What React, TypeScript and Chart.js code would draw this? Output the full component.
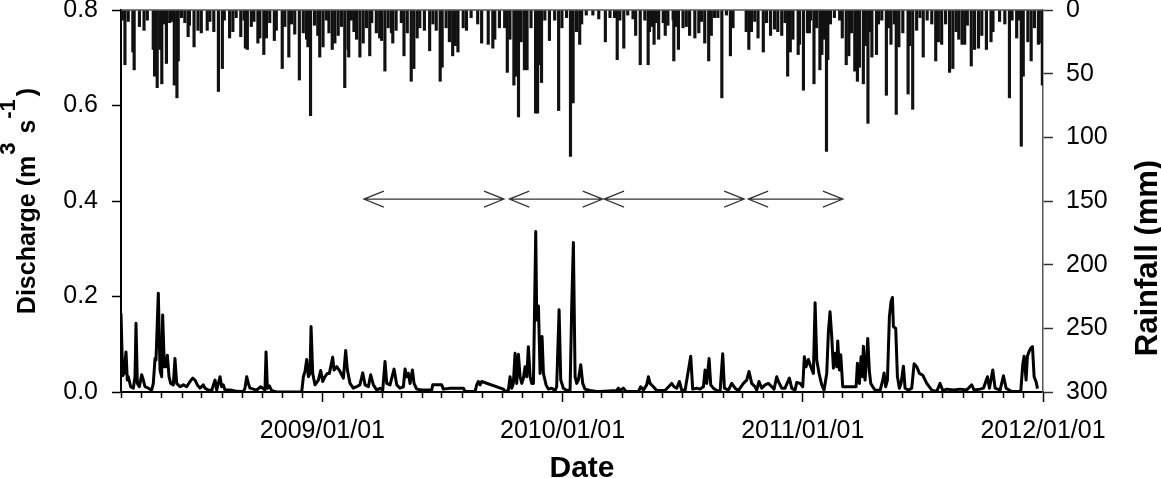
import React, { useEffect, useRef } from "react";
import { Chart, registerables } from "chart.js";

Chart.register(...registerables);

// Day offsets are counted from 2008/03/01 (day 0) to 2012/01/01 (day 1401).
const START_YEAR = 2008;
const START_MONTH = 2; // March (0-based)
const END_DAY = 1401;

// Year labels on the date axis
const yearLabels = ["2009/01/01", "2010/01/01", "2011/01/01", "2012/01/01"];

// Discharge (m3 s-1): [day, value]
const discharge2008: [number, number][] = [
  [0, 0.165], [2.5, 0.034], [4.6, 0.039], [7.6, 0.084], [9.6, 0.025], [11.1, 0.032], [14.7, 0.011],
  [18.7, 0.008], [21.3, 0.032], [22.8, 0.144], [24.8, 0.018], [27.9, 0.011], [31.4, 0.036], [33.9, 0.025],
  [36.5, 0.011], [41.5, 0.008], [46.6, 0.004], [49.1, 0.018], [51.7, 0.07], [53.2, 0.067], [56.7, 0.207],
  [59.3, 0.046], [61.8, 0.032], [63.3, 0.161], [65.9, 0.053], [68.4, 0.053], [70.4, 0.077], [73, 0.032],
  [75.5, 0.018], [79.5, 0.015], [82, 0.07], [84.6, 0.018], [89.7, 0.011], [94.7, 0.015], [99.8, 0.011],
  [104.9, 0.022], [108.9, 0.029], [112.5, 0.025], [116, 0.015], [120, 0.008], [125, 0.015], [127.7, 0.008],
  [132.7, 0.004], [137.8, 0.003], [142.9, 0.025], [145.4, 0.004], [150.5, 0.032], [153, 0.011], [155.5, 0.015],
  [158, 0.004], [165.7, 0.004], [173.3, 0.002], [180.9, 0.001], [186, 0.001], [188.4, 0.008], [191, 0.032],
  [193.5, 0.018], [196, 0.008], [206, 0.004], [212.3, 0.011], [215.3, 0.008], [218.8, 0.004], [220.4, 0.084],
  [222.4, 0.008], [225.4, 0.013], [229, 0.003], [236.6, 0], [274.6, 0], [277.1, 0.032], [279.6, 0.043],
  [282.2, 0.068], [284.7, 0.032], [287.2, 0.039], [288.8, 0.137], [291.3, 0.039], [294.8, 0.015], [299.9, 0.025],
  [303.4, 0.045],
];
const discharge2009: [number, number][] = [
  [306.5, 0.022], [310, 0.032], [313.6, 0.039], [316.6, 0.039], [321.7, 0.073], [323.7, 0.046], [327.8, 0.053],
  [332.8, 0.043], [337.9, 0.029], [341.4, 0.087], [344, 0.046], [348, 0.018], [353, 0.008], [358, 0.011],
  [363, 0.015], [367.3, 0.04], [370.8, 0.015], [375.9, 0.011], [379.4, 0.036], [383.5, 0.015], [388.6, 0.004],
  [393.6, 0.008], [397.7, 0.004], [401.2, 0.064], [403.8, 0.018], [408.8, 0.015], [414.9, 0.048], [419, 0.015],
  [424, 0.008], [429.1, 0.011], [431.6, 0.048], [434.1, 0.032], [436.7, 0.039], [439.2, 0.018], [442.8, 0.046],
  [445.3, 0.018], [449.3, 0.006], [457, 0.004], [472.1, 0.004], [473.7, 0.015], [487.3, 0.015], [489.9, 0.006],
  [500, 0.008], [520.3, 0.008], [522.8, 0.001], [538, 0.001], [540.5, 0.015], [543, 0.022], [545.6, 0.015],
  [548.1, 0.022], [581, 0.006], [583.6, 0.001], [588.6, 0.004], [591.2, 0.032], [593.7, 0.008], [596.2, 0.018],
  [598.8, 0.081], [601.3, 0.018], [603.9, 0.079], [606.4, 0.032], [609, 0.018], [611.5, 0.029], [614, 0.053],
  [616.6, 0.032], [619, 0.095], [621.7, 0.032], [624.1, 0.018], [626.7, 0.018], [630.2, 0.336], [631.7, 0.151],
  [634.3, 0.18], [636.8, 0.039], [639.8, 0.116], [641.9, 0.039], [645.9, 0.015], [649.4, 0.006], [654.5, 0.008],
  [659.6, 0.003], [662, 0.011], [665.7, 0.172], [668.2, 0.025],
];
const discharge2010: [number, number][] = [
  [672.2, 0.008], [677.3, 0.003], [682.4, 0.004], [684.9, 0.18], [687.4, 0.313], [690, 0.032], [692.5, 0.018],
  [695, 0.025], [698.6, 0.057], [701.6, 0.018], [705, 0.006], [712.8, 0.003], [723, 0.001], [728, 0.001],
  [753.2, 0.003], [755.8, 0.008], [758.3, 0.003], [763.4, 0.008], [767.4, 0.001], [786.2, 0.001], [789.7, 0.011],
  [793.8, 0.004], [798.8, 0.015], [801.4, 0.032], [803.9, 0.018], [809, 0.011], [814, 0.003], [826.7, 0.003],
  [836.8, 0.018], [840.4, 0.011], [844.4, 0.008], [848.5, 0.022], [852, 0.004], [857.1, 0.003], [865.7, 0.075],
  [868.7, 0.006], [874.8, 0.008], [879.9, 0.006], [885, 0.011], [887.5, 0.046], [890, 0.018], [893.6, 0.07],
  [896.1, 0.015], [900.1, 0.008], [905.2, 0.003], [910.3, 0.001], [914.3, 0.08], [916.9, 0.008], [923, 0.004],
  [928, 0.018], [933.1, 0.008], [938.1, 0.003], [945.7, 0.018], [950.8, 0.025], [954.3, 0.043], [958.4, 0.018],
  [963.5, 0.011], [966, 0.004], [969.5, 0.022], [973.6, 0.008], [978.7, 0.015], [983.7, 0.018], [988.8, 0.011],
  [992.3, 0.006], [996.4, 0.032], [998.9, 0.022], [1004, 0.008], [1009, 0.008], [1015.6, 0.029], [1019.2, 0.008],
  [1024.2, 0.004], [1026.8, 0.02], [1031.9, 0.018],
];
const discharge2011: [number, number][] = [
  [1035.9, 0.011], [1038.4, 0.074], [1041, 0.053], [1044.5, 0.068], [1048.1, 0.053], [1052.1, 0.039],
  [1054.7, 0.187], [1057.2, 0.067], [1060.7, 0.039], [1064.8, 0.015], [1068.3, 0.004], [1072.4, 0.039],
  [1074.9, 0.126], [1077.4, 0.168], [1080, 0.116], [1082.5, 0.05], [1085, 0.081], [1087.6, 0.053], [1089.1, 0.107],
  [1091.6, 0.046], [1093.7, 0.078], [1096.7, 0.011], [1100.2, 0.011], [1105.3, 0.011], [1112.9, 0.011],
  [1117, 0.011], [1119, 0.06], [1122, 0.018], [1124.6, 0.074], [1126.6, 0.032], [1128.1, 0.096], [1130.6, 0.025],
  [1133.2, 0.074], [1134.7, 0.112], [1137.2, 0.043], [1139.3, 0.018], [1142.3, 0.011], [1145.8, 0.004],
  [1153.4, 0.003], [1157.5, 0.025], [1159.5, 0.04], [1162, 0.011], [1164.6, 0.025], [1167.6, 0.158],
  [1170.1, 0.189], [1172.2, 0.198], [1173.7, 0.137], [1177.2, 0.133], [1179.8, 0.032], [1182.8, 0.008],
  [1185.3, 0.018], [1188.9, 0.054], [1191.4, 0.008], [1196.5, 0.004], [1201.6, 0.008], [1205.1, 0.059],
  [1209.2, 0.053], [1213.2, 0.039], [1218.3, 0.035], [1224.4, 0.018], [1232, 0.004], [1239.5, 0.001],
  [1244.6, 0.018], [1248.7, 0.003], [1254.7, 0.006], [1264.9, 0.004], [1275, 0.006], [1285.1, 0.004],
  [1292.7, 0.015], [1296.3, 0.004], [1305.4, 0.006], [1310.5, 0.008], [1316.6, 0.032], [1319.6, 0.008],
  [1324.7, 0.046], [1328.2, 0.008], [1335.8, 0.004], [1340.9, 0.034], [1344.9, 0.008], [1353.5, 0.001],
  [1367.2, 0.001], [1370.2, 0.057], [1372.3, 0.075], [1375.3, 0.025], [1377.3, 0.075], [1379.9, 0.085],
  [1382.4, 0.092], [1385, 0.095], [1387.5, 0.032], [1390.6, 0.021], [1392.6, 0.007],
];

// Daily rainfall (mm): [day, value]
const rain2008: [number, number][] = [
  [2, 8], [6, 43], [11, 9], [18, 33], [20, 47], [28, 13], [35, 16], [40, 8], [49, 31], [51, 52], [55, 61],
  [59, 31], [62, 58], [66, 11], [69, 42], [74, 10], [77, 9], [81, 59], [85, 69], [87, 40], [92, 6], [97, 10],
  [102, 21], [104, 12], [111, 29], [117, 16], [122, 18], [131, 16], [135, 9], [141, 17], [148, 64], [154, 46],
  [157, 8], [165, 22], [170, 17], [175, 6], [182, 21], [187, 8], [189, 30], [192, 31], [198, 13], [202, 9],
  [208, 26], [211, 22], [217, 35], [221, 22], [226, 10], [233, 24], [236, 16], [245, 46], [249, 13], [255, 37],
  [259, 11], [264, 19], [271, 55], [277, 18], [282, 23], [284, 29], [288, 83], [294, 12], [299, 20], [302, 37],
];
const rain2009: [number, number][] = [
  [307, 29], [312, 8], [316, 18], [321, 31], [325, 26], [330, 20], [335, 13], [340, 61], [345, 31], [350, 8],
  [346, 37], [354, 17], [358, 23], [363, 37], [368, 26], [373, 14], [378, 36], [381, 10], [388, 18], [393, 22],
  [396, 24], [401, 48], [406, 14], [411, 18], [413, 26], [418, 16], [426, 10], [430, 36], [435, 18], [441, 56],
  [445, 46], [450, 22], [454, 14], [461, 16], [469, 32], [474, 11], [479, 16], [485, 56], [488, 45], [494, 14],
  [499, 25], [504, 36], [508, 28], [512, 33], [520, 14], [525, 16], [532, 6], [542, 11], [548, 26], [558, 27],
  [565, 30], [568, 23], [575, 14], [583, 14], [587, 49], [591, 23], [597, 59], [601, 52], [604, 84], [608, 25],
  [613, 47], [617, 47], [623, 14], [630, 81], [633, 81], [636, 43], [639, 57], [644, 8], [651, 24], [659, 8],
  [665, 79], [670, 14],
];
const rain2010: [number, number][] = [
  [677, 6], [683, 115], [687, 73], [692, 17], [697, 27], [700, 11], [707, 4], [717, 4], [726, 7], [736, 25],
  [743, 6], [750, 6], [754, 39], [758, 8], [764, 30], [770, 4], [778, 7], [782, 20], [789, 43], [796, 8],
  [801, 43], [803, 17], [807, 13], [810, 27], [813, 10], [817, 23], [824, 10], [827, 20], [831, 12], [839, 8],
  [840, 40], [844, 13], [847, 31], [854, 14], [859, 13], [864, 20], [872, 22], [878, 18], [882, 9], [887, 26],
  [893, 40], [897, 20], [902, 6], [907, 6], [913, 69], [920, 4], [926, 36], [930, 14], [950, 17], [954, 31],
  [958, 17], [963, 9], [968, 22], [976, 33], [981, 10], [987, 20], [993, 15], [998, 17], [1004, 20], [1009, 10],
  [1013, 52], [1017, 33], [1021, 23], [1029, 35], [1031, 27],
];
const rain2011: [number, number][] = [
  [1037, 63], [1043, 18], [1048, 8], [1046, 18], [1053, 58], [1057, 14], [1062, 47], [1065, 35], [1068, 23],
  [1072, 111], [1074, 39], [1078, 11], [1084, 6], [1092, 8], [1096, 22], [1102, 43], [1106, 36], [1110, 18],
  [1115, 48], [1119, 56], [1122, 45], [1128, 58], [1131, 28], [1135, 89], [1139, 17], [1141, 37], [1148, 35],
  [1151, 11], [1156, 8], [1163, 67], [1166, 14], [1170, 27], [1175, 11], [1178, 82], [1182, 29], [1188, 18],
  [1196, 66], [1198, 28], [1203, 78], [1209, 16], [1214, 6], [1219, 37], [1225, 8], [1232, 11], [1238, 40],
  [1242, 25], [1247, 27], [1253, 11], [1259, 49], [1264, 46], [1269, 17], [1273, 23], [1278, 27], [1282, 27],
  [1286, 12], [1292, 44], [1297, 31], [1303, 30], [1308, 20], [1315, 31], [1322, 25], [1325, 17], [1335, 9],
  [1343, 11], [1350, 69], [1354, 8], [1361, 22], [1364, 8], [1368, 107], [1371, 52], [1378, 25], [1383, 40],
  [1388, 14], [1394, 27], [1399, 26], [1400, 59],
];

// Period arrows drawn at discharge 0.4: [startDay, endDay]
const periodArrows: [number, number][] = [
  [369, 582],
  [590, 732],
  [734, 947],
  [953, 1097],
];
const ARROW_LEVEL = 0.404;

const FONT = '"Liberation Sans", Arial, Helvetica, sans-serif';

function buildMonthTicks() {
  const t0 = Date.UTC(START_YEAR, START_MONTH, 1);
  const ticks: { day: number; label: string; major: boolean }[] = [];
  let y = START_YEAR;
  let m = START_MONTH;
  for (;;) {
    const day = Math.round((Date.UTC(y, m, 1) - t0) / 86400000);
    if (day > END_DAY) break;
    const isJan = m === 0;
    const label = isJan ? `${y}/01/01` : "";
    ticks.push({ day, label: isJan && yearLabels.includes(label) ? label : "", major: isJan });
    m += 1;
    if (m > 11) {
      m = 0;
      y += 1;
    }
  }
  return ticks;
}

const monthTicks = buildMonthTicks();
const majorDays = new Set(monthTicks.filter((t) => t.major).map((t) => t.day));
const labelByDay = new Map(monthTicks.map((t) => [t.day, t.label]));

const overlayPlugin = {
  id: "overlay",
  afterDraw(chart: any) {
    const { ctx, chartArea, scales } = chart;
    const x = scales.x;
    const y = scales.y;
    ctx.save();

    // top frame line
    ctx.strokeStyle = "#555";
    ctx.lineWidth = 1.5;
    ctx.beginPath();
    ctx.moveTo(chartArea.left, chartArea.top);
    ctx.lineTo(chartArea.right, chartArea.top);
    ctx.stroke();

    // minor (monthly) ticks
    ctx.strokeStyle = "#000";
    ctx.lineWidth = 1.5;
    ctx.beginPath();
    monthTicks.forEach((t) => {
      if (t.major) return;
      const px = Math.round(x.getPixelForValue(t.day)) + 0.5;
      ctx.moveTo(px, chartArea.bottom);
      ctx.lineTo(px, chartArea.bottom + 6);
    });
    ctx.stroke();

    // double-headed period arrows
    ctx.strokeStyle = "#333";
    ctx.lineWidth = 1.2;
    const ay = y.getPixelForValue(ARROW_LEVEL);
    periodArrows.forEach(([a, b]) => {
      const x1 = x.getPixelForValue(a);
      const x2 = x.getPixelForValue(b);
      ctx.beginPath();
      ctx.moveTo(x1, ay);
      ctx.lineTo(x2, ay);
      ctx.moveTo(x1 + 20, ay - 8);
      ctx.lineTo(x1, ay);
      ctx.lineTo(x1 + 20, ay + 8);
      ctx.moveTo(x2 - 20, ay - 8);
      ctx.lineTo(x2, ay);
      ctx.lineTo(x2 - 20, ay + 8);
      ctx.stroke();
    });

    // axis titles
    ctx.fillStyle = "#000";
    ctx.textBaseline = "alphabetic";

    // Date
    ctx.font = `bold 30px ${FONT}`;
    ctx.textAlign = "center";
    ctx.fillText("Date", (chartArea.left + chartArea.right) / 2, 477);

    // Discharge (m^3 s^-1)
    const main = `bold 25px ${FONT}`;
    const sup = `bold 22px ${FONT}`;
    const parts = [
      { t: "Discharge (m", f: main, dy: 0, gap: 0 },
      { t: "3", f: sup, dy: -20, gap: 1 },
      { t: " s", f: main, dy: 0, gap: 2 },
      { t: "-1", f: sup, dy: -20, gap: 1 },
      { t: ")", f: main, dy: 0, gap: 3 },
    ];
    let total = 0;
    parts.forEach((p) => {
      ctx.font = p.f;
      total += p.gap + ctx.measureText(p.t).width;
    });
    ctx.save();
    ctx.translate(35, (chartArea.top + chartArea.bottom) / 2);
    ctx.rotate(-Math.PI / 2);
    ctx.textAlign = "left";
    let cx = -total / 2;
    parts.forEach((p) => {
      ctx.font = p.f;
      cx += p.gap;
      ctx.fillText(p.t, cx, p.dy);
      cx += ctx.measureText(p.t).width;
    });
    ctx.restore();

    // Rainfall (mm)
    ctx.save();
    ctx.translate(1157, 258);
    ctx.rotate(-Math.PI / 2);
    ctx.textAlign = "center";
    ctx.font = `bold 31px ${FONT}`;
    ctx.fillText("Rainfall (mm)", 0, 0);
    ctx.restore();

    ctx.restore();
  },
};

export default function App() {
  const canvasRef = useRef<HTMLCanvasElement | null>(null);

  useEffect(() => {
    if (!canvasRef.current) return;
    const dischargeData = [...discharge2008, ...discharge2009, ...discharge2010, ...discharge2011].map(
      ([d, v]) => ({ x: d, y: v })
    );
    const rainData = [...rain2008, ...rain2009, ...rain2010, ...rain2011]
      .slice()
      .sort((a, b) => a[0] - b[0])
      .map(([d, v]) => ({ x: d, y: v }));

    const tickFont = { family: FONT, size: 25 };

    const chart = new Chart(canvasRef.current, {
      type: "line",
      data: {
        datasets: [
          {
            type: "line",
            label: "Discharge",
            data: dischargeData,
            borderColor: "#000",
            borderWidth: 3,
            borderJoinStyle: "round",
            pointRadius: 0,
            tension: 0,
            yAxisID: "y",
            xAxisID: "x",
            order: 0,
          } as any,
          {
            type: "bar",
            label: "Rainfall",
            data: rainData,
            backgroundColor: "#111",
            barThickness: 2.5,
            yAxisID: "yR",
            xAxisID: "x",
            order: 1,
          } as any,
        ],
      },
      options: {
        responsive: false,
        animation: false,
        events: [],
        layout: { padding: { top: 10, left: 0, right: 0, bottom: 0 } },
        plugins: {
          legend: { display: false },
          tooltip: { enabled: false },
          title: { display: false },
        },
        scales: {
          x: {
            type: "linear",
            min: 0,
            max: END_DAY,
            offset: false,
            afterBuildTicks: (scale: any) => {
              scale.ticks = monthTicks.map((t) => ({ value: t.day }));
            },
            afterFit: (scale: any) => {
              scale.height = 86;
              scale.paddingLeft = 0;
              scale.paddingRight = 0;
            },
            ticks: {
              autoSkip: false,
              maxRotation: 0,
              minRotation: 0,
              padding: 14,
              color: "#000",
              font: tickFont,
              callback: (v: any) => labelByDay.get(Math.round(Number(v))) ?? "",
            },
            grid: {
              display: true,
              drawOnChartArea: false,
              offset: false,
              tickLength: 10,
              tickWidth: 1.5,
              tickColor: (c: any) =>
                c.tick && majorDays.has(Math.round(c.tick.value)) ? "#000" : "rgba(0,0,0,0)",
            },
            border: { display: true, color: "#000", width: 2 },
          },
          y: {
            type: "linear",
            position: "left",
            min: 0,
            max: 0.8,
            afterBuildTicks: (scale: any) => {
              scale.ticks = [0, 0.2, 0.4, 0.6, 0.8].map((v) => ({ value: v }));
            },
            afterFit: (scale: any) => {
              scale.width = 121;
              scale.paddingTop = 0;
              scale.paddingBottom = 0;
            },
            ticks: {
              padding: 14,
              color: "#000",
              font: tickFont,
              callback: (v: any) => Number(v).toFixed(1),
            },
            grid: {
              drawOnChartArea: false,
              tickLength: 9,
              tickWidth: 1.5,
              tickColor: "#000",
            },
            border: { display: true, color: "#000", width: 2 },
          },
          yR: {
            type: "linear",
            position: "right",
            min: 0,
            max: 300,
            reverse: true,
            afterBuildTicks: (scale: any) => {
              scale.ticks = [0, 50, 100, 150, 200, 250, 300].map((v) => ({ value: v }));
            },
            afterFit: (scale: any) => {
              scale.width = 118;
              scale.paddingTop = 0;
              scale.paddingBottom = 0;
            },
            ticks: {
              padding: 13,
              color: "#000",
              font: tickFont,
            },
            grid: {
              drawOnChartArea: false,
              tickLength: 10,
              tickWidth: 1.5,
              tickColor: "#333",
            },
            border: { display: true, color: "#555", width: 1.5 },
          },
        },
      } as any,
      plugins: [overlayPlugin],
    });

    return () => {
      chart.destroy();
    };
  }, []);

  return (
    <div style={{ position: "fixed", left: 0, top: 0, width: 1161, height: 478, background: "#fff" }}>
      <canvas ref={canvasRef} width={1161} height={478} style={{ display: "block" }} />
    </div>
  );
}
